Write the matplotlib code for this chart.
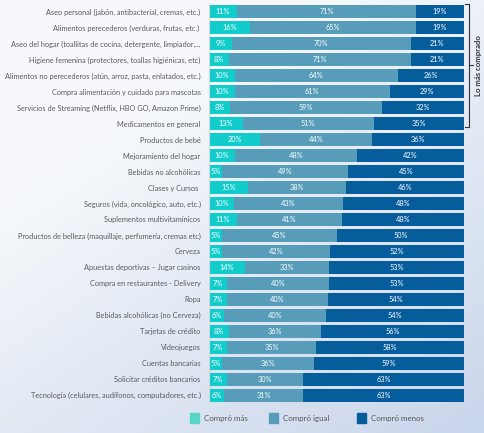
import numpy as np
import matplotlib
matplotlib.use("Agg")
import matplotlib.pyplot as plt

plt.rcParams['font.family'] = ['Lato', 'DejaVu Sans']

categorias = [
    "Aseo personal (jabón, antibacterial, cremas, etc.)",
    "Alimentos perecederos (verduras, frutas, etc.) ",
    "Aseo del hogar (toallitas de cocina, detergente, limpiador,...",
    "Higiene femenina (protectores, toallas higiénicas, etc)",
    "Alimentos no perecederos (atún, arroz, pasta, enlatados, etc.)",
    "Compra alimentación y cuidado para mascotas",
    "Servicios de Streaming (Netflix, HBO GO, Amazon Prime)",
    "Medicamentos en general",
    "Productos de bebé",
    "Mejoramiento del hogar",
    "Bebidas no alcohólicas",
    "Clases y Cursos ",
    "Seguros (vida, oncológico, auto, etc.)",
    "Suplementos multivitamínicos",
    "Productos de belleza (maquillaje, perfumería, cremas etc)",
    "Cerveza",
    "Apuestas deportivas – Jugar casinos",
    "Compra en restaurantes - Delivery",
    "Ropa",
    "Bebidas alcohólicas (no Cerveza)",
    "Tarjetas de crédito",
    "Videojuegos",
    "Cuentas bancarias",
    "Solicitar créditos bancarios",
    "Tecnología (celulares, audífonos, computadores, etc.)",
]
compro_mas = [11, 16, 9, 8, 10, 10, 8, 13, 20, 10, 5, 15, 10, 11, 5, 5, 14, 7, 7, 6, 8, 7, 5, 7, 6]
compro_igual = [71, 65, 70, 71, 64, 61, 59, 51, 44, 48, 49, 38, 43, 41, 45, 42, 33, 40, 40, 40, 36, 35, 36, 30, 31]
compro_menos = [19, 19, 21, 21, 26, 29, 32, 35, 36, 42, 45, 46, 48, 48, 50, 52, 53, 53, 54, 54, 56, 58, 59, 63, 63]
series = ["Compró más", "Compró igual", "Compró menos"]
colores = ["#12CCCC", "#579DB9", "#065D9C"]
color_leyenda = ["#55D6C6", "#579DB9", "#065D9C"]

fig = plt.figure(figsize=(4.85, 4.33), dpi=100)

# fondo degradado
bg = fig.add_axes([0, 0, 1, 1], zorder=0)
xx, yy = np.meshgrid(np.linspace(0, 1, 200), np.linspace(0, 1, 200))
t = np.clip(0.55 * xx + 0.75 * yy - 0.35, 0, 1)
c0 = np.array([0.965, 0.975, 0.985])
c1 = np.array([0.78, 0.83, 0.92])
img = c0 + (c1 - c0) * t[..., None]
bg.imshow(img, extent=[0, 1, 0, 1], aspect='auto', origin='upper')
bg.axis('off')

ax = fig.add_axes([0.431, 0.069, 0.526, 0.922], zorder=1)
ax.patch.set_alpha(0)

datos = np.array([compro_mas, compro_igual, compro_menos], dtype=float)
totales = datos.sum(axis=0)
y = np.arange(len(categorias))
izq = np.zeros(len(categorias))
for i in range(3):
    ancho = datos[i] / totales * 100
    ax.barh(y, ancho, left=izq, height=0.82, color=colores[i], edgecolor='none')
    for j in range(len(categorias)):
        ax.text(izq[j] + ancho[j] / 2, y[j], f"{int(datos[i][j])}%", ha='center', va='center',
                color='white', fontsize=5.3)
    izq += ancho

ax.set_xlim(0, 100)
ax.set_ylim(len(categorias) - 0.5, -0.5)
ax.set_yticks(y)
ax.set_yticklabels(categorias, fontsize=5.35, color='#5a5a5a')
ax.tick_params(axis='y', length=0, pad=6)
ax.set_xticks([])
for s in ['top', 'right', 'bottom']:
    ax.spines[s].set_visible(False)
ax.spines['left'].set_color('#d0d8e0')
ax.spines['left'].set_linewidth(0.8)

# llave "Lo más comprado"
x0 = 469 / 485
ytop = 1 - 4 / 433
ybot = 1 - 127 / 433
ymid = (ytop + ybot) / 2
kw = dict(color='#333333', lw=0.8, transform=fig.transFigure)
fig.add_artist(plt.Line2D([x0, x0], [ybot, ytop], **kw))
fig.add_artist(plt.Line2D([x0 - 4 / 485, x0], [ytop, ytop], **kw))
fig.add_artist(plt.Line2D([x0 - 4 / 485, x0], [ybot, ybot], **kw))
fig.add_artist(plt.Line2D([x0, x0 + 4 / 485], [ymid, ymid], **kw))
fig.text(479 / 485, ymid, "Lo más comprado", rotation=90, ha='center', va='center',
         fontsize=5.6, fontweight='bold', color='#333333')

# leyenda
pos_x = [190, 269, 357]
for i in range(3):
    fig.patches.append(plt.Rectangle((pos_x[i] / 485, 1 - 423 / 433), 9 / 485, 10 / 433,
                                     color=color_leyenda[i], transform=fig.transFigure))
    fig.text((pos_x[i] + 14) / 485, 1 - 418 / 433, series[i], ha='left', va='center',
             fontsize=5.7, color='#555555')

fig.savefig("out.png", dpi=100)
